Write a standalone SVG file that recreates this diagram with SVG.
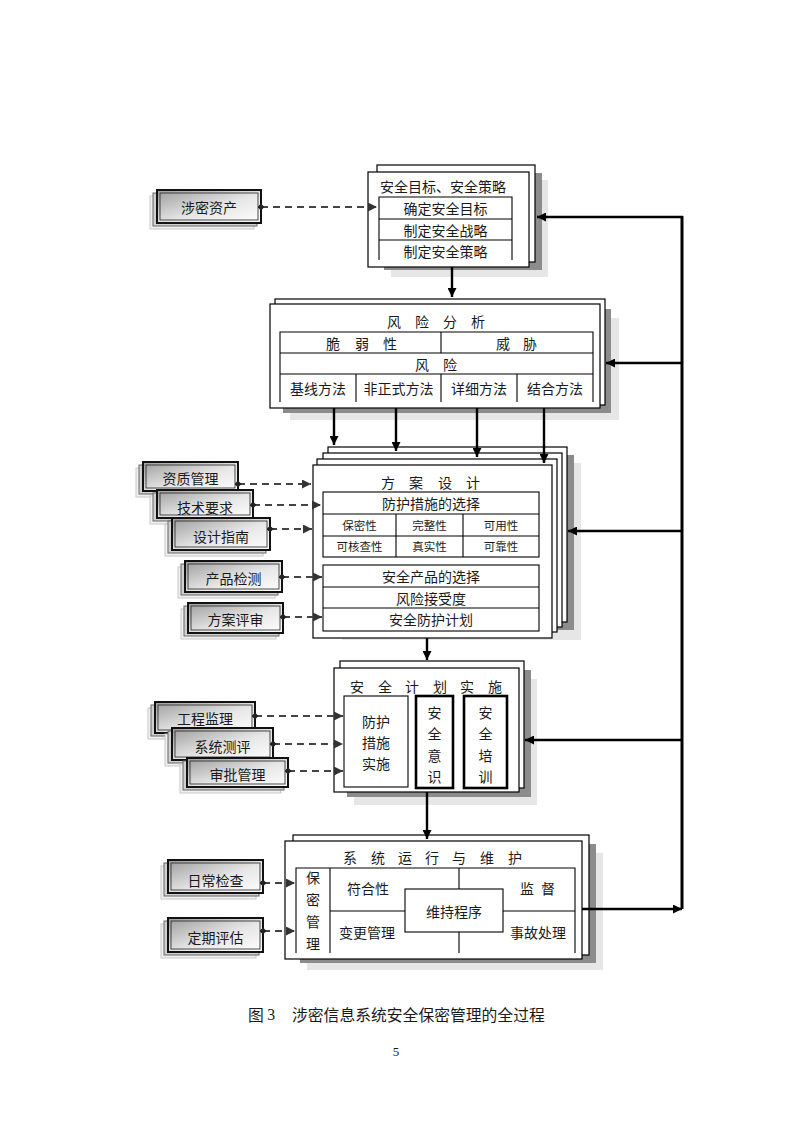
<svg xmlns="http://www.w3.org/2000/svg" width="793" height="1122" viewBox="0 0 793 1122">
<style>
text{font-family:"Noto Sans CJK SC","Noto Sans",sans-serif;font-size:14px;fill:#1a1a1a;dominant-baseline:central}
.m{text-anchor:middle}
.s{font-size:11.5px}
.w{fill:#fff;stroke:#000;stroke-width:1.2}
.t{fill:none;stroke:#000;stroke-width:1.1}
.tk{fill:none;stroke:#000;stroke-width:2.6}
.sd{fill:#8c8c8c}
.sl{fill:#e6e6e6}
.lb2{fill:#f0f0f0;stroke:#c8c8c8;stroke-width:1}
.lb1{fill:#d0d0d0;stroke:#666;stroke-width:1}
.lb{fill:url(#g);stroke:#111;stroke-width:2}
.lbi{fill:none;stroke:#222;stroke-width:0.8}
.c{fill:none;stroke:#000;stroke-width:2.4}
.d{fill:none;stroke:#444;stroke-width:2;stroke-dasharray:7 5}
</style>
<defs>
<linearGradient id="g" x1="0" y1="0" x2="1" y2="1">
<stop offset="0" stop-color="#9c9c9c"/>
<stop offset="0.55" stop-color="#e6e6e6"/>
<stop offset="1" stop-color="#ffffff"/>
</linearGradient>
<marker id="ah" viewBox="0 0 10 10" refX="10" refY="5" markerWidth="9" markerHeight="9" markerUnits="userSpaceOnUse" orient="auto"><path d="M0,0 L10,5 L0,10 z" fill="#000"/></marker>
<marker id="ahg" viewBox="0 0 10 10" refX="10" refY="5" markerWidth="9" markerHeight="9" markerUnits="userSpaceOnUse" orient="auto"><path d="M0,0 L10,5 L0,10 z" fill="#333"/></marker>
<marker id="dot" viewBox="0 0 10 10" refX="5" refY="5" markerWidth="7" markerHeight="7" markerUnits="userSpaceOnUse"><path d="M5,0 L10,5 L5,10 L0,5 z" fill="#222"/></marker>
</defs>

<!-- 安全目标、安全策略 -->
<g id="n-goal">
<rect class="sl" x="391" y="180" width="157" height="97"/>
<rect class="sd" x="384" y="173" width="158" height="97"/>
<rect class="w" x="377" y="165" width="158" height="97"/>
<rect class="w" x="368" y="172" width="161" height="95"/>
<text x="380" y="186">安全目标、安全策略</text>
<path class="t" d="M379,260 V197 H512 V260 M379,219 H512 M379,240 H512"/>
<text class="m" x="445.5" y="208">确定安全目标</text>
<text class="m" x="445.5" y="229.5">制定安全战略</text>
<text class="m" x="445.5" y="250.5">制定安全策略</text>
</g>

<!-- 风险分析 -->
<g id="n-risk">
<rect class="sl" x="290" y="318" width="329" height="102"/>
<rect class="sd" x="283" y="309" width="328" height="104"/>
<rect class="w" x="275" y="299" width="330" height="106"/>
<rect class="w" x="270" y="304" width="330" height="104"/>
<text class="m" x="394 422 450 478" y="321">风险分析</text>
<path class="t" d="M280,402 V332 H593 V402 M280,353 H593 M280,374 H593 M441,332 V353 M356,374 V402 M441,374 V402 M517,374 V402"/>
<text class="m" x="333 362 390" y="342.5">脆弱性</text>
<text class="m" x="503 530" y="342.5">威胁</text>
<text class="m" x="422 450" y="363.5">风险</text>
<text class="m" x="318" y="388">基线方法</text>
<text class="m" x="398.5" y="388">非正式方法</text>
<text class="m" x="479" y="388">详细方法</text>
<text class="m" x="555" y="388">结合方法</text>
</g>

<!-- 方案设计 -->
<g id="n-design">
<rect class="sl" x="342" y="463" width="239" height="177"/>
<rect class="sd" x="335" y="455" width="239" height="175"/>
<rect class="w" x="328" y="447" width="239" height="175"/>
<rect class="w" x="323" y="453" width="239" height="174"/>
<rect class="w" x="317" y="459" width="240" height="173"/>
<rect class="w" x="313" y="465" width="239" height="173"/>
<text class="m" x="388 416 445 473" y="482">方案设计</text>
<rect class="t" x="323" y="492" width="216" height="65"/>
<path class="t" d="M323,514 H539 M323,536 H539 M396,514 V557 M463,514 V557"/>
<text class="m" x="431" y="503">防护措施的选择</text>
<text class="m s" x="359.5" y="525">保密性</text>
<text class="m s" x="429.5" y="525">完整性</text>
<text class="m s" x="501" y="525">可用性</text>
<text class="m s" x="359.5" y="546">可核查性</text>
<text class="m s" x="429.5" y="546">真实性</text>
<text class="m s" x="501" y="546">可靠性</text>
<rect class="t" x="323" y="565" width="216" height="66"/>
<path class="t" d="M323,587 H539 M323,608 H539"/>
<text class="m" x="431" y="576">安全产品的选择</text>
<text class="m" x="431" y="597.5">风险接受度</text>
<text class="m" x="431" y="619">安全防护计划</text>
</g>

<!-- 安全计划实施 -->
<g id="n-impl">
<rect class="sl" x="354" y="679" width="183" height="126"/>
<rect class="sd" x="347" y="670" width="184" height="127"/>
<rect class="w" x="340" y="661" width="184" height="127"/>
<rect class="w" x="334" y="668" width="185" height="124"/>
<text class="m" x="357 385 412 440 467 495" y="686">安全计划实施</text>
<rect class="t" x="344" y="696" width="64" height="91"/>
<text class="m" x="376" y="721">防护</text>
<text class="m" x="376" y="742">措施</text>
<text class="m" x="376" y="763">实施</text>
<rect class="tk" x="416" y="696" width="37" height="92"/>
<text class="m" x="434.5 434.5 434.5 434.5" y="712 733 755 776">安全意识</text>
<rect class="tk" x="464" y="696" width="43" height="92"/>
<text class="m" x="485.5 485.5 485.5 485.5" y="712 733 755 776">安全培训</text>
</g>

<!-- 系统运行与维护 -->
<g id="n-ops">
<rect class="sl" x="307" y="853" width="296" height="117"/>
<rect class="sd" x="300" y="844" width="296" height="119"/>
<rect class="w" x="293" y="835" width="296" height="120"/>
<rect class="w" x="285" y="841" width="297" height="118"/>
<text class="m" x="350 378 405 432 459 487 515" y="857">系统运行与维护</text>
<path class="t" d="M296,953 V868 H575 V953 M330,868 V953 M330,911 H405 M503,911 H575 M459,868 V889 M459,932 V953"/>
<rect class="t" x="405" y="889" width="98" height="43"/>
<text class="m" x="454" y="910.5">维持程序</text>
<text class="m" x="313 313 313 313" y="877 899 921 943">保密管理</text>
<text class="m" x="368" y="888">符合性</text>
<text class="m" x="527 548" y="888">监督</text>
<text class="m" x="367" y="932">变更管理</text>
<text class="m" x="538" y="932">事故处理</text>
</g>

<!-- left side boxes -->
<g id="n-asset">
<rect class="lb2" x="150" y="196" width="104" height="33"/>
<rect class="lb1" x="153" y="193" width="104" height="33"/>
<rect class="lb" x="157" y="190" width="104" height="33"/>
<rect class="lbi" x="160" y="193" width="98" height="27"/>
<text class="m" x="209" y="207">涉密资产</text>
</g>
<g id="n-qual">
<rect class="lb2" x="136" y="468" width="95" height="29"/>
<rect class="lb1" x="139" y="465" width="95" height="29"/>
<rect class="lb" x="143" y="462" width="95" height="29"/>
<rect class="lbi" x="146" y="465" width="89" height="23"/>
<text class="m" x="190.5" y="478">资质管理</text>
</g>
<g id="n-tech">
<rect class="lb2" x="150" y="496" width="96" height="28"/>
<rect class="lb1" x="153" y="493" width="96" height="28"/>
<rect class="lb" x="157" y="490" width="96" height="28"/>
<rect class="lbi" x="160" y="493" width="90" height="22"/>
<text class="m" x="205" y="507">技术要求</text>
</g>
<g id="n-guide">
<rect class="lb2" x="165" y="524" width="98" height="32"/>
<rect class="lb1" x="168" y="521" width="98" height="32"/>
<rect class="lb" x="172" y="518" width="98" height="32"/>
<rect class="lbi" x="175" y="521" width="92" height="26"/>
<text class="m" x="221" y="536">设计指南</text>
</g>
<g id="n-prod">
<rect class="lb2" x="178" y="567" width="97" height="31"/>
<rect class="lb1" x="181" y="564" width="97" height="31"/>
<rect class="lb" x="185" y="561" width="97" height="31"/>
<rect class="lbi" x="188" y="564" width="91" height="25"/>
<text class="m" x="233.5" y="578">产品检测</text>
</g>
<g id="n-review">
<rect class="lb2" x="181" y="609" width="95" height="30"/>
<rect class="lb1" x="184" y="606" width="95" height="30"/>
<rect class="lb" x="188" y="603" width="95" height="30"/>
<rect class="lbi" x="191" y="606" width="89" height="24"/>
<text class="m" x="235.5" y="619">方案评审</text>
</g>
<g id="n-sup">
<rect class="lb2" x="148" y="708" width="100" height="31"/>
<rect class="lb1" x="151" y="705" width="100" height="31"/>
<rect class="lb" x="155" y="702" width="100" height="31"/>
<rect class="lbi" x="158" y="705" width="94" height="25"/>
<text class="m" x="205" y="718">工程监理</text>
</g>
<g id="n-eval">
<rect class="lb2" x="165" y="734" width="101" height="32"/>
<rect class="lb1" x="168" y="731" width="101" height="32"/>
<rect class="lb" x="172" y="728" width="101" height="32"/>
<rect class="lbi" x="175" y="731" width="95" height="26"/>
<text class="m" x="222.5" y="746">系统测评</text>
</g>
<g id="n-appr">
<rect class="lb2" x="180" y="764" width="101" height="29"/>
<rect class="lb1" x="183" y="761" width="101" height="29"/>
<rect class="lb" x="187" y="758" width="101" height="29"/>
<rect class="lbi" x="190" y="761" width="95" height="23"/>
<text class="m" x="237.5" y="774">审批管理</text>
</g>
<g id="n-daily">
<rect class="lb2" x="161" y="866" width="95" height="33"/>
<rect class="lb1" x="164" y="863" width="95" height="33"/>
<rect class="lb" x="168" y="860" width="95" height="33"/>
<rect class="lbi" x="171" y="863" width="89" height="27"/>
<text class="m" x="215.5" y="880">日常检查</text>
</g>
<g id="n-period">
<rect class="lb2" x="161" y="924" width="95" height="34"/>
<rect class="lb1" x="164" y="921" width="95" height="34"/>
<rect class="lb" x="168" y="918" width="95" height="34"/>
<rect class="lbi" x="171" y="921" width="89" height="28"/>
<text class="m" x="215.5" y="937">定期评估</text>
</g>

<!-- connectors -->
<g id="connectors">
<path class="d" d="M261,207 H377" marker-start="url(#dot)" marker-end="url(#ahg)"/>
<path class="c" d="M452,267 V297" marker-end="url(#ah)"/>
<path class="c" d="M334,408 V445" marker-end="url(#ah)"/>
<path class="c" d="M396,408 V451" marker-end="url(#ah)"/>
<path class="c" d="M477,408 V457" marker-end="url(#ah)"/>
<path class="c" d="M544,408 V463" marker-end="url(#ah)"/>
<path class="c" d="M427,638 V660" marker-end="url(#ah)"/>
<path class="c" d="M427,792 V839" marker-end="url(#ah)"/>
<path class="c" d="M582,909 H682" marker-end="url(#ah)"/>
<path class="c" d="M682,909 V216" style="stroke-width:3"/>
<path class="c" d="M683,217 H537" marker-end="url(#ah)"/>
<path class="c" d="M683,363 H606" marker-end="url(#ah)"/>
<path class="c" d="M683,531 H568" marker-end="url(#ah)"/>
<path class="c" d="M683,740 H525" marker-end="url(#ah)"/>
<path class="d" d="M238,484 H311" marker-start="url(#dot)" marker-end="url(#ahg)"/>
<path class="d" d="M253,505 H321" marker-start="url(#dot)" marker-end="url(#ahg)"/>
<path class="d" d="M270,529 H312" marker-start="url(#dot)" marker-end="url(#ahg)"/>
<path class="d" d="M282,577 H322" marker-start="url(#dot)" marker-end="url(#ahg)"/>
<path class="d" d="M283,617 H322" marker-start="url(#dot)" marker-end="url(#ahg)"/>
<path class="d" d="M255,716 H343" marker-start="url(#dot)" marker-end="url(#ahg)"/>
<path class="d" d="M273,744 H343" marker-start="url(#dot)" marker-end="url(#ahg)"/>
<path class="d" d="M288,771 H343" marker-start="url(#dot)" marker-end="url(#ahg)"/>
<path class="d" d="M263,883 H295" marker-start="url(#dot)" marker-end="url(#ahg)"/>
<path class="d" d="M263,931 H295" marker-start="url(#dot)" marker-end="url(#ahg)"/>
</g>

<text x="248" y="1014" style="font-size:15.8px">图 <tspan style="font-family:'Liberation Serif',serif">3</tspan></text>
<text x="292" y="1014" style="font-size:15.8px">涉密信息系统安全保密管理的全过程</text>
<text class="m" x="396" y="1051" style="font-family:'Liberation Serif',serif;font-size:13px">5</text>
</svg>
